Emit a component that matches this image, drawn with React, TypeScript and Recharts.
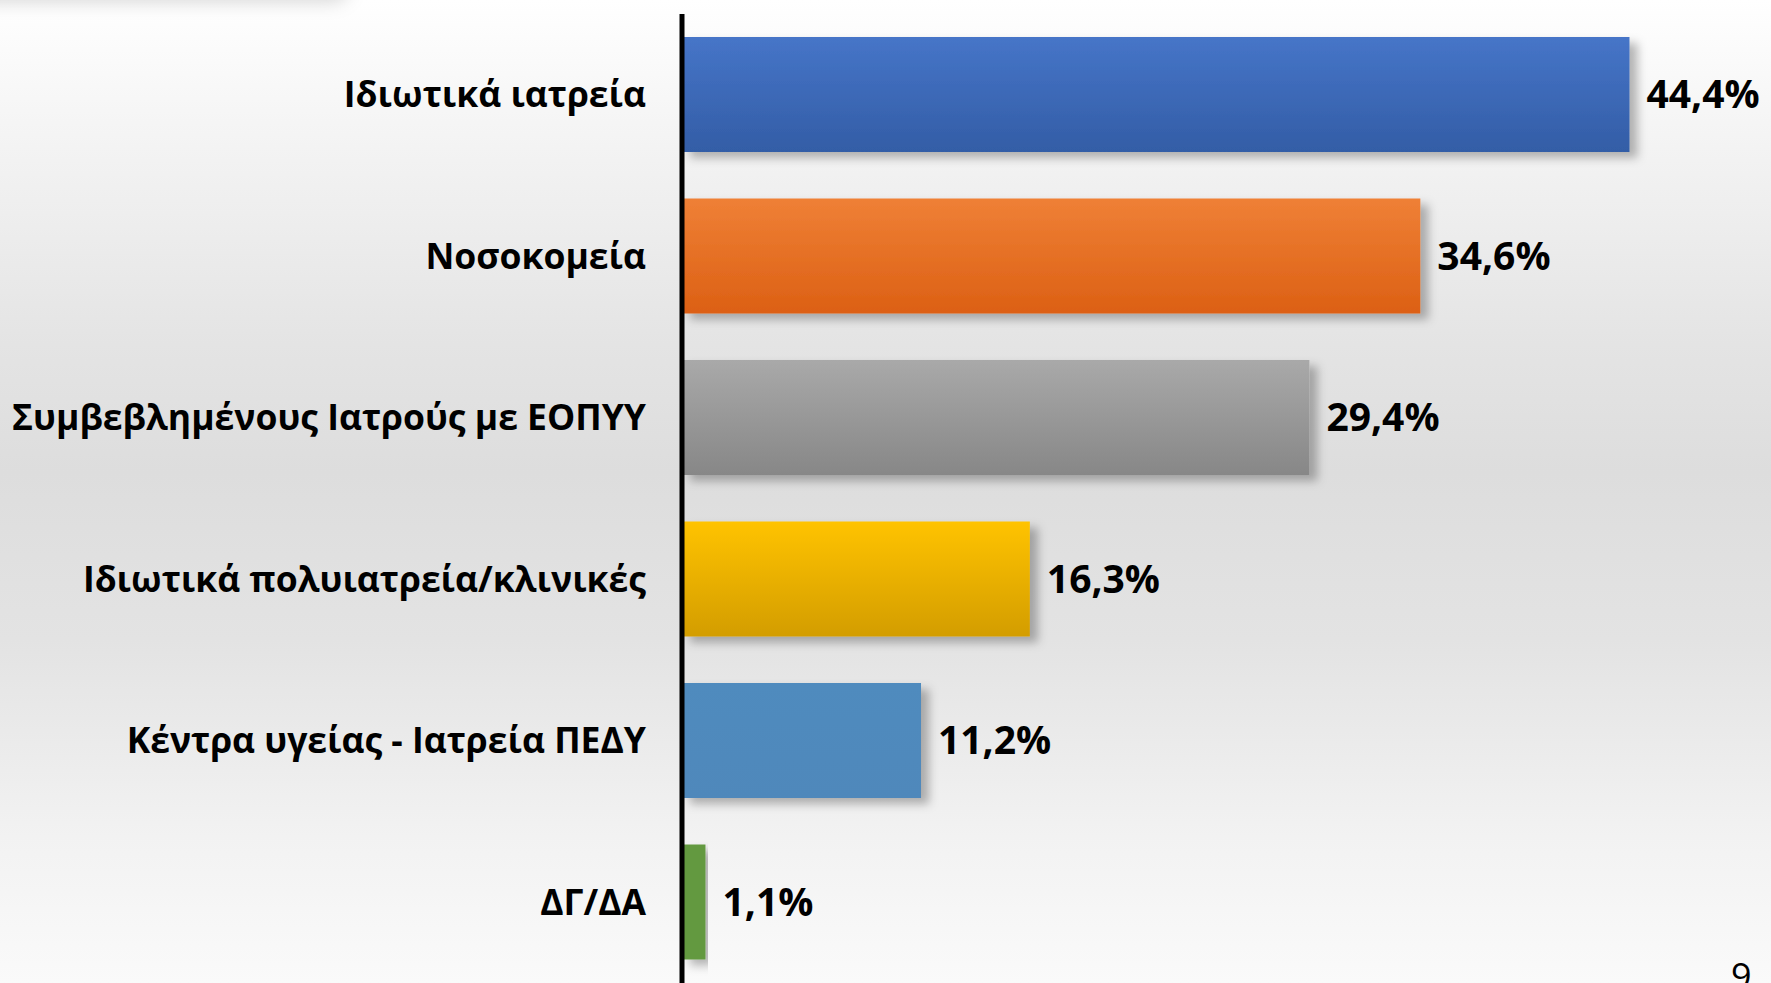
import React from "react";
import { BarChart, Bar, XAxis, YAxis, Cell, LabelList } from "recharts";

const categories = [
  "Ιδιωτικά ιατρεία",
  "Νοσοκομεία",
  "Συμβεβλημένους Ιατρούς με ΕΟΠΥΥ",
  "Ιδιωτικά πολυιατρεία/κλινικές",
  "Κέντρα υγείας - Ιατρεία ΠΕΔΥ",
  "ΔΓ/ΔΑ",
];
const values = [44.4, 34.6, 29.4, 16.3, 11.2, 1.1];
const valueLabels = ["44,4%", "34,6%", "29,4%", "16,3%", "11,2%", "1,1%"];

const topColors = ["#4675C8", "#EF8036", "#A9A9A9", "#FFC300", "#508BBE", "#63993F"];
const bottomColors = ["#335DA6", "#DC6014", "#878787", "#D39D00", "#4F88BB", "#63993F"];

const data = categories.map((name, i) => ({ name, value: values[i], label: valueLabels[i] }));

const FONT = "'Open Sans', 'DejaVu Sans', sans-serif";

export default function App() {
  return (
    <div
      style={{
        position: "absolute",
        left: 0,
        top: 0,
        width: 1771,
        height: 983,
        overflow: "hidden",
        background:
          "linear-gradient(to bottom, #ffffff 0%, #f3f3f3 15%, #e4e4e4 35%, #dddddd 48%, #e3e3e3 65%, #f2f2f2 85%, #fafafa 100%)",
      }}
    >
      <div
        style={{
          position: "absolute",
          left: -40,
          top: -34,
          width: 390,
          height: 36,
          borderRadius: 30,
          background: "rgba(0,0,0,0.16)",
          filter: "blur(9px)",
        }}
      />
      <svg width={0} height={0} style={{ position: "absolute" }}>
        <defs>
          {topColors.map((c, i) => (
            <linearGradient key={i} id={`grad${i}`} x1="0" y1="0" x2="0" y2="1">
              <stop offset="0%" stopColor={c} />
              <stop offset="100%" stopColor={bottomColors[i]} />
            </linearGradient>
          ))}
          <filter id="barShadow" x="-5%" y="-10%" width="115%" height="140%">
            <feDropShadow dx="8" dy="6" stdDeviation="5" floodColor="#000" floodOpacity="0.28" />
          </filter>
        </defs>
      </svg>
      <BarChart
        width={1771}
        height={983}
        data={data}
        layout="vertical"
        margin={{ top: 14, right: 22, bottom: 0, left: 0 }}
        barSize={115}
      >
        <XAxis type="number" domain={[0, 50]} hide />
        <YAxis
          type="category"
          dataKey="name"
          width={682}
          axisLine={{ stroke: "#000", strokeWidth: 5 }}
          tickLine={false}
          tickSize={0}
          tickMargin={36}
          tick={{ fill: "#000", fontSize: 35.5, fontWeight: 700, fontFamily: FONT }}
          interval={0}
        />
        <Bar dataKey="value" isAnimationActive={false} filter="url(#barShadow)">
          {data.map((_, i) => (
            <Cell key={i} fill={`url(#grad${i})`} />
          ))}
          <LabelList
            dataKey="label"
            position="right"
            offset={17}
            style={{ fill: "#000", fontSize: 39, fontWeight: 700, fontFamily: FONT }}
          />
        </Bar>
      </BarChart>
      <div
        style={{
          position: "absolute",
          left: 1731,
          top: 958,
          fontFamily: FONT,
          fontSize: 36,
          color: "#000",
          lineHeight: 1,
        }}
      >
        9
      </div>
    </div>
  );
}
